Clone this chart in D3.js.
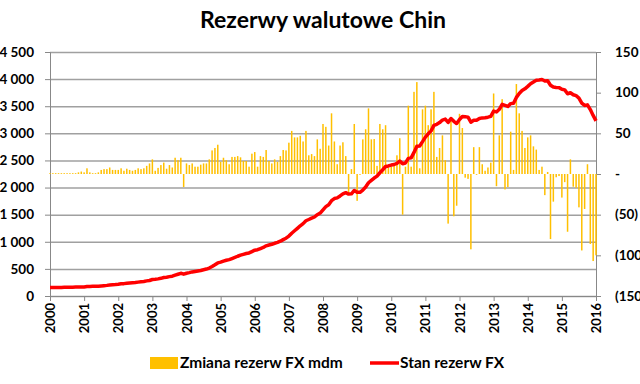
<!DOCTYPE html>
<html>
<head>
<meta charset="utf-8">
<script src="https://cdn.jsdelivr.net/npm/d3@7"></script>
<style>
  body { margin: 0; background: #fff; }
  text { font-family: Lato, sans-serif; font-weight: bold; fill: #000; }
</style>
</head>
<body>
<div id="chart-area"></div>
<script>
// tick labels of the time axis (one per January)
const years = ['2000', '2001', '2002', '2003', '2004', '2005', '2006', '2007', '2008',
    '2009', '2010', '2011', '2012', '2013', '2014', '2015', '2016']

// stock of FX reserves, bn USD, monthly Jan 2000 .. Jan 2016
const reserves = [
    158, 158, 157, 158, 159, 160, 161, 162, 163, 164, 164, 166,
    168, 175, 177, 178, 180, 180, 185, 190, 196, 204, 209, 212,
    217, 224, 228, 235, 240, 244, 249, 256, 262, 269, 279, 286,
    304, 308, 316, 326, 340, 346, 357, 365, 384, 401, 419, 403,
    420, 431, 444, 453, 462, 471, 484, 497, 515, 543, 575, 610,
    624, 643, 659, 671, 691, 711, 733, 753, 769, 784, 794, 819,
    845, 854, 875, 895, 925, 941, 954, 972, 988, 1010, 1040, 1066,
    1105, 1158, 1203, 1248, 1295, 1335, 1388, 1411, 1435, 1457, 1500, 1530,
    1590, 1648, 1683, 1757, 1797, 1809, 1845, 1884, 1906, 1880, 1885, 1946,
    1913, 1912, 1954, 2009, 2089, 2132, 2175, 2211, 2273, 2328, 2388, 2399,
    2415, 2425, 2447, 2490, 2440, 2454, 2538, 2547, 2648, 2760, 2768, 2847,
    2931, 2991, 3045, 3146, 3166, 3198, 3245, 3262, 3202, 3274, 3221, 3181,
    3254, 3310, 3305, 3299, 3206, 3240, 3240, 3273, 3285, 3287, 3298, 3312,
    3410, 3395, 3443, 3534, 3515, 3497, 3548, 3553, 3663, 3736, 3789, 3821,
    3866, 3914, 3948, 3979, 3984, 3993, 3966, 3969, 3887, 3853, 3847, 3843,
    3813, 3802, 3730, 3748, 3711, 3694, 3651, 3557, 3514, 3525, 3438, 3330,
    3231
]

// month on month change, bn USD
const changes = [
    1, 1, 1, 1, 1, 1, 1, 1, 1, 1, 2, 3,
    2, 7, 2, 1, 1, 2, 5, 6, 6, 8, 5, 5,
    5, 7, 4, 6.5, 5, 4, 5, 7, 6, 7, 10, 13,
    18, 4, 7.5, 11, 14, 6.5, 11, 8, 20, 17, 20, -16,
    13, 11, 13, 9, 9, 11.5, 13, 13, 18, 29, 32, 36,
    15, 20, 17, 12, 21, 21, 22, 20.5, 16, 16, 9, 25,
    27, 9, 22, 21, 29.5, 16, 13, 18, 15, 22, 29.5, 29,
    38.5, 53, 45, 45, 47, 40, 53, 23, 24.5, 22, 42.6, 31,
    61.5, 58, 35, 74.6, 40, 12, 35, 39, 22, -23, 6, 61.5,
    -33, -1, 42.6, 55, 80.7, 42.6, 43, 10, 61.5, 55, 60, 8,
    9, 11, 23, 44, -50, 9, 84, 9, 101, 113, 7, 79.5,
    84, 60, 79.5, 101, 21, 32, 47.5, 17, -61, 66, -52, -39,
    74, 56.5, -4.5, -6, -92.6, 33, -1, 33, 12, 4, 8, 14,
    99, -15, 47.5, 92, -19, -16, 52, 5, 110.6, 74.6, 53, 32,
    45, 47.5, 34, 30, 5, 9, -26, 2.5, -80, -34, -4, -2.5,
    -29, -10, -71, 18, -15.6, -17, -41, -94, -43, 12, -86, -107,
    -100
]

const leftTicks = [0, 500, 1000, 1500, 2000, 2500, 3000, 3500, 4000, 4500]
const rightTicks = [-150, -100, -50, 0, 50, 100, 150]

const svgWidth = 640
const svgHeight = 384
const margin = { left: 50, right: 44, top: 52, bottom: 88 }
const width = svgWidth - (margin.left + margin.right)
const height = svgHeight - (margin.top + margin.bottom)

const svg = d3.select('#chart-area').append('svg')
    .attr('width', svgWidth)
    .attr('height', svgHeight)

const g = svg.append('g')
    .attr('transform', `translate(${margin.left}, ${margin.top})`)

const xScale = d3.scaleLinear()
    .domain([0, changes.length - 1])
    .range([0, width])

const yLeft = d3.scaleLinear()
    .domain([0, 4500])
    .range([height, 0])

const yRight = d3.scaleLinear()
    .domain([-150, 150])
    .range([height, 0])

const spaced = d3.formatLocale({ decimal: ',', thousands: ' ', grouping: [3], currency: ['', ''] }).format(',')
const bracket = v => v === 0 ? '-' : v < 0 ? `(${-v})` : `${v}`

// gridlines
g.append('g')
    .attr('class', 'grid')
    .call(d3.axisLeft(yLeft).tickValues(leftTicks).tickSize(-width).tickFormat(''))
    .call(s => s.select('.domain').remove())
    .selectAll('line')
    .attr('stroke', '#a0a0a0')
    .attr('stroke-width', 1.5)

// left axis
const leftAxis = g.append('g')
    .call(d3.axisLeft(yLeft).tickValues(leftTicks).tickSize(5).tickPadding(11).tickFormat(spaced))
leftAxis.select('.domain').attr('stroke', '#888')
leftAxis.selectAll('line').attr('stroke', '#888')
leftAxis.selectAll('text').attr('font-size', '13.5px')

// right axis
const rightAxis = g.append('g')
    .attr('transform', `translate(${width}, 0)`)
    .call(d3.axisRight(yRight).tickValues(rightTicks).tickSize(5).tickPadding(14).tickFormat(bracket))
rightAxis.select('.domain').attr('stroke', '#888')
rightAxis.selectAll('line').attr('stroke', '#888')
rightAxis.selectAll('text').attr('font-size', '13.5px')

// bottom axis
const xAxis = g.append('g')
    .attr('transform', `translate(0, ${height})`)
    .call(d3.axisBottom(xScale)
        .tickValues(d3.range(0, changes.length, 12))
        .tickSize(5)
        .tickFormat((d, i) => years[i]))
xAxis.select('.domain').attr('stroke', '#888')
xAxis.selectAll('line').attr('stroke', '#888')
xAxis.selectAll('text')
    .attr('font-size', '13px')
    .attr('transform', 'rotate(-90)')
    .attr('text-anchor', 'end')
    .attr('x', -7)
    .attr('y', 0)
    .attr('dy', '0.35em')

// monthly change bars
g.append('g').selectAll('rect')
    .data(changes)
    .enter()
    .append('rect')
    .attr('x', (d, i) => xScale(i) - 0.75)
    .attr('width', 1.5)
    .attr('y', d => yRight(Math.max(0, d)))
    .attr('height', d => Math.abs(yRight(d) - yRight(0)))
    .attr('fill', '#FFC000')

// reserves line
const line = d3.line()
    .x((d, i) => xScale(i))
    .y(d => yLeft(d))

g.append('path')
    .datum(reserves)
    .attr('fill', 'none')
    .attr('stroke', '#FF0000')
    .attr('stroke-width', 3.5)
    .attr('stroke-linejoin', 'round')
    .attr('d', line)

// title
svg.append('text')
    .attr('x', 323)
    .attr('y', 28)
    .attr('text-anchor', 'middle')
    .attr('font-size', '23px')
    .text('Rezerwy walutowe Chin')

// legend
const legend = svg.append('g')
legend.append('rect')
    .attr('x', 150).attr('y', 357)
    .attr('width', 28).attr('height', 12)
    .attr('fill', '#FFC000')
legend.append('text')
    .attr('x', 180).attr('y', 368)
    .attr('font-size', '15.5px')
    .text('Zmiana rezerw FX mdm')
legend.append('line')
    .attr('x1', 370).attr('x2', 399)
    .attr('y1', 363).attr('y2', 363)
    .attr('stroke', '#FF0000')
    .attr('stroke-width', 3.5)
legend.append('text')
    .attr('x', 400).attr('y', 368)
    .attr('font-size', '15.5px')
    .text('Stan rezerw FX')
</script>
</body>
</html>
